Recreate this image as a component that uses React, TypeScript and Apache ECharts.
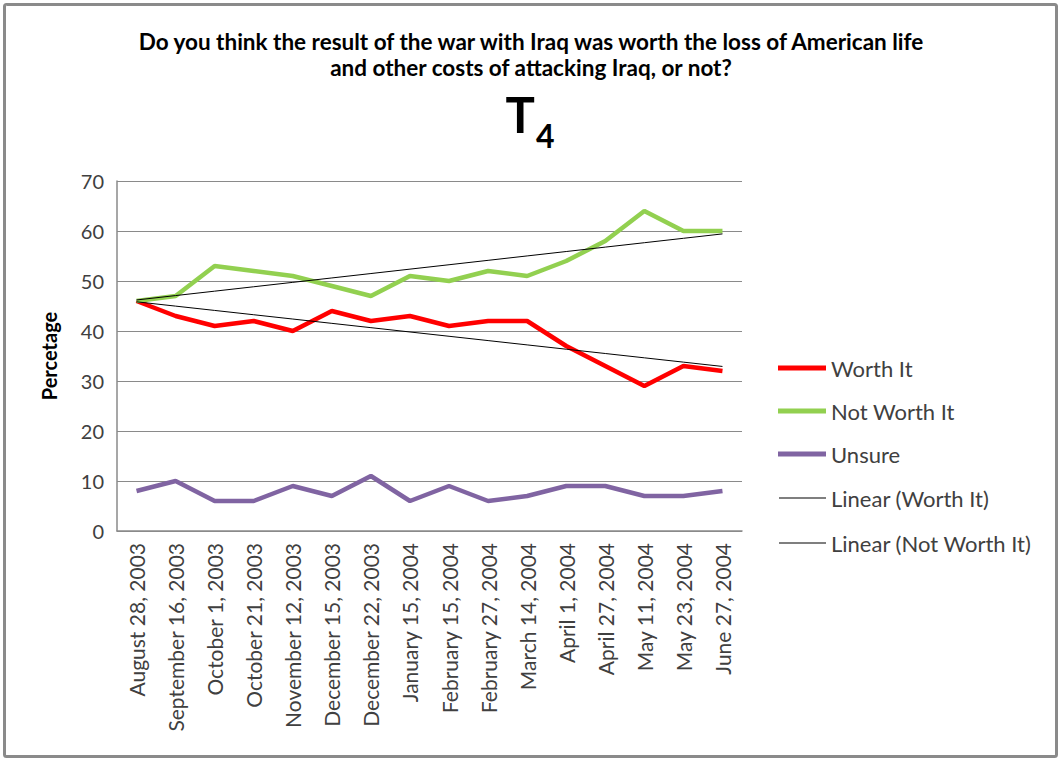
import React, { useEffect, useRef } from "react";
import * as echarts from "echarts";

const categories = [
  "August 28, 2003",
  "September 16, 2003",
  "October 1, 2003",
  "October 21, 2003",
  "November 12, 2003",
  "December 15, 2003",
  "December 22, 2003",
  "January 15, 2004",
  "February 15, 2004",
  "February 27, 2004",
  "March 14, 2004",
  "April 1, 2004",
  "April 27, 2004",
  "May 11, 2004",
  "May 23, 2004",
  "June 27, 2004",
];
const worthIt = [46, 43, 41, 42, 40, 44, 42, 43, 41, 42, 42, 37, 33, 29, 33, 32];
const notWorthIt = [46, 47, 53, 52, 51, 49, 47, 51, 50, 52, 51, 54, 58, 64, 60, 60];
const unsure = [8, 10, 6, 6, 9, 7, 11, 6, 9, 6, 7, 9, 9, 7, 7, 8];
const yTicks = { min: 0, max: 70, interval: 10 };

const titleLine1 = "Do you think the result of the war with Iraq was worth the loss of American life";
const titleLine2 = "and other costs of attacking Iraq, or not?";

// Least-squares linear trendline (like Excel's "Linear" trendline)
function linearTrend(values: number[]): number[] {
  const n = values.length;
  const xs = values.map((_, i) => i + 1);
  const mx = xs.reduce((a, b) => a + b, 0) / n;
  const my = values.reduce((a, b) => a + b, 0) / n;
  let sxy = 0;
  let sxx = 0;
  for (let i = 0; i < n; i++) {
    sxy += (xs[i] - mx) * (values[i] - my);
    sxx += (xs[i] - mx) * (xs[i] - mx);
  }
  const slope = sxy / sxx;
  const intercept = my - slope * mx;
  return xs.map((x) => +(intercept + slope * x).toFixed(3));
}

const FONT = "Lato, 'Open Sans', sans-serif";
const TEXT_COLOR = "#404040";

export default function App() {
  const ref = useRef<HTMLDivElement>(null);

  useEffect(() => {
    document.body.style.margin = "0";
    if (!ref.current) return;
    const chart = echarts.init(ref.current, null, { renderer: "svg" });
    chart.setOption({
      animation: false,
      backgroundColor: "#ffffff",
      textStyle: { fontFamily: FONT },
      graphic: [
        {
          type: "rect",
          shape: { x: 4.5, y: 4.5, width: 1052, height: 752, r: 2 },
          style: { fill: "none", stroke: "#8a8a8a", lineWidth: 3 },
          silent: true,
        },
        {
          type: "text",
          x: 531,
          y: 41,
          style: {
            text: titleLine1,
            font: `bold 22.5px ${FONT}`,
            fill: "#000",
            align: "center",
            verticalAlign: "middle",
          },
        },
        {
          type: "text",
          x: 531,
          y: 67,
          style: {
            text: titleLine2,
            font: `bold 22.5px ${FONT}`,
            fill: "#000",
            align: "center",
            verticalAlign: "middle",
          },
        },
        {
          type: "text",
          x: 535,
          y: 114,
          style: {
            text: "T",
            font: `bold 49px ${FONT}`,
            fill: "#000",
            align: "right",
            verticalAlign: "middle",
          },
        },
        {
          type: "text",
          x: 536,
          y: 135,
          style: {
            text: "4",
            font: `bold 32px ${FONT}`,
            fill: "#000",
            align: "left",
            verticalAlign: "middle",
          },
        },
      ],
      legend: [
        {
          orient: "vertical",
          left: 778,
          top: 357,
          padding: 0,
          itemWidth: 48,
          itemHeight: 5,
          itemGap: 21,
          icon: "rect",
          textStyle: { fontSize: 22, color: TEXT_COLOR, fontFamily: FONT, lineHeight: 22 },
          data: ["Worth It", "Not Worth It", "Unsure"],
        },
        {
          orient: "vertical",
          left: 779,
          top: 487,
          padding: 0,
          itemWidth: 47,
          itemHeight: 1,
          itemGap: 23,
          icon: "rect",
          textStyle: { fontSize: 22, color: TEXT_COLOR, fontFamily: FONT, lineHeight: 22 },
          data: ["Linear (Worth It)", "Linear (Not Worth It)"],
        },
      ],
      grid: { left: 117, right: 319, top: 181, bottom: 230 },
      xAxis: {
        type: "category",
        data: categories,
        boundaryGap: true,
        axisLine: { show: true, lineStyle: { color: "#8a8a8a", width: 1.5 } },
        axisTick: { show: false },
        axisLabel: {
          rotate: 90,
          interval: 0,
          margin: 12,
          fontSize: 21,
          color: TEXT_COLOR,
          fontFamily: FONT,
        },
      },
      yAxis: {
        type: "value",
        min: yTicks.min,
        max: yTicks.max,
        interval: yTicks.interval,
        name: "Percetage",
        nameLocation: "middle",
        nameGap: 58,
        nameTextStyle: { fontSize: 20, fontWeight: "bold", color: "#000", fontFamily: FONT },
        axisLine: { show: true, lineStyle: { color: "#8a8a8a", width: 1.5 } },
        axisTick: { show: false },
        axisLabel: { fontSize: 20, color: TEXT_COLOR, margin: 13, fontFamily: FONT },
        splitLine: { show: true, lineStyle: { color: "#8a8a8a", width: 1 } },
      },
      series: [
        {
          name: "Worth It",
          type: "line",
          data: worthIt,
          symbol: "none",
          color: "#ff0000",
          lineStyle: { width: 4.5, color: "#ff0000" },
        },
        {
          name: "Not Worth It",
          type: "line",
          data: notWorthIt,
          symbol: "none",
          color: "#92d050",
          lineStyle: { width: 4.5, color: "#92d050" },
        },
        {
          name: "Unsure",
          type: "line",
          data: unsure,
          symbol: "none",
          color: "#8064a2",
          lineStyle: { width: 4.5, color: "#8064a2" },
        },
        {
          name: "Linear (Worth It)",
          type: "line",
          data: linearTrend(worthIt),
          symbol: "none",
          color: "#000000",
          lineStyle: { width: 1, color: "#000000" },
        },
        {
          name: "Linear (Not Worth It)",
          type: "line",
          data: linearTrend(notWorthIt),
          symbol: "none",
          color: "#000000",
          lineStyle: { width: 1, color: "#000000" },
        },
      ],
    });
    return () => chart.dispose();
  }, []);

  return (
    <div
      ref={ref}
      style={{ position: "absolute", left: 0, top: 0, width: 1061, height: 761 }}
    />
  );
}
